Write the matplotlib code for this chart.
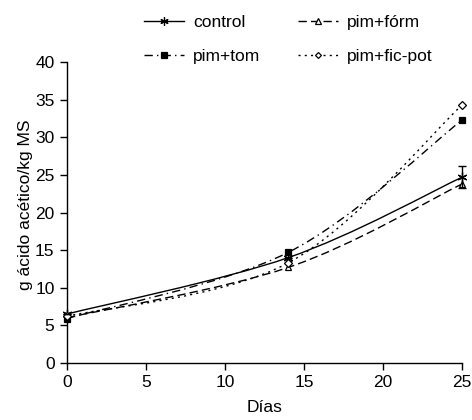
import numpy as np
import matplotlib
matplotlib.use("Agg")
import matplotlib.pyplot as plt
from matplotlib.path import Path
from matplotlib.patches import PathPatch
from matplotlib.lines import Line2D

plt.rcParams['font.family'] = ['Liberation Sans', 'DejaVu Sans']

days = [0, 14, 25]
control = [6.5, 14.0, 24.7]
control_err = [0.0, 0.0, 1.5]
pim_form = [6.0, 12.7, 23.8]
pim_tom = [5.9, 14.7, 32.3]
pim_fic_pot = [6.2, 13.3, 34.3]

series = {
    "control": (control, dict(ls='-', marker=(6, 2, 0), mfc='black', ms=7, lw=1.0)),
    "pim+fórm": (pim_form, dict(ls=(0, (6, 3)), marker='^', mfc='white', ms=5, lw=1.0)),
    "pim+tom": (pim_tom, dict(ls=(0, (6, 3, 1, 3)), marker='s', mfc='black', ms=5, lw=1.0)),
    "pim+fic-pot": (pim_fic_pot, dict(ls=(0, (1.5, 3)), marker='D', mfc='white', ms=4, lw=1.0)),
}

FS = 12.5
fig = plt.figure(figsize=(4.72, 4.2), dpi=100)
ax = fig.add_axes([0.142, 0.136, 0.837, 0.716])


def smooth_path(xs, ys):
    pts = np.column_stack([xs, ys]).astype(float)
    n = len(pts)
    verts = [pts[0]]
    codes = [Path.MOVETO]
    for i in range(n - 1):
        p0 = pts[i - 1] if i > 0 else pts[i]
        p1 = pts[i]
        p2 = pts[i + 1]
        p3 = pts[i + 2] if i + 2 < n else pts[i + 1]
        c1 = p1 + (p2 - p0) / 6.0
        c2 = p2 - (p3 - p1) / 6.0
        verts += [c1, c2, p2]
        codes += [Path.CURVE4] * 3
    return Path(verts, codes)

handles = {}
for name, (ys, st) in series.items():
    patch = PathPatch(smooth_path(days, ys), facecolor='none', edgecolor='black',
                      lw=st['lw'], linestyle=st['ls'], zorder=2)
    ax.add_patch(patch)
    ax.plot(days, ys, ls='none', marker=st['marker'], mfc=st['mfc'], mec='black',
            ms=st['ms'], mew=0.9, zorder=3, clip_on=False)
    handles[name] = Line2D([0], [0], color='black', lw=st['lw'], ls=st['ls'],
                           marker=st['marker'], mfc=st['mfc'], mec='black',
                           ms=st['ms'] - 1, mew=0.9)

ax.errorbar(days, control, yerr=control_err, fmt='none', ecolor='black',
            elinewidth=1.0, capsize=3, capthick=1.0, zorder=4, clip_on=False)

ax.set_xlim(0, 25)
ax.set_ylim(0, 40)
ax.set_xticks(range(0, 26, 5))
ax.set_yticks(range(0, 41, 5))
for s in ['top', 'right']:
    ax.spines[s].set_visible(False)
for s in ['left', 'bottom']:
    ax.spines[s].set_linewidth(1.0)
ax.tick_params(direction='out', length=5, width=1.0, labelsize=FS, colors='black', pad=4)
ax.set_xlabel('Días', fontsize=FS)
ax.set_ylabel('g ácido acético/kg MS', fontsize=FS)
ax.xaxis.set_label_coords(0.5, -0.125)
ax.yaxis.set_label_coords(-0.085, 0.525)

order = ["control", "pim+tom", "pim+fórm", "pim+fic-pot"]
fig.legend([handles[k] for k in order], order, loc='center', ncol=2,
           bbox_to_anchor=(0.611, 0.906), frameon=False, fontsize=FS,
           handlelength=2.3, columnspacing=2.2, handletextpad=0.5,
           labelspacing=1.1, borderpad=0, borderaxespad=0)

fig.savefig('out.png', dpi=100)
